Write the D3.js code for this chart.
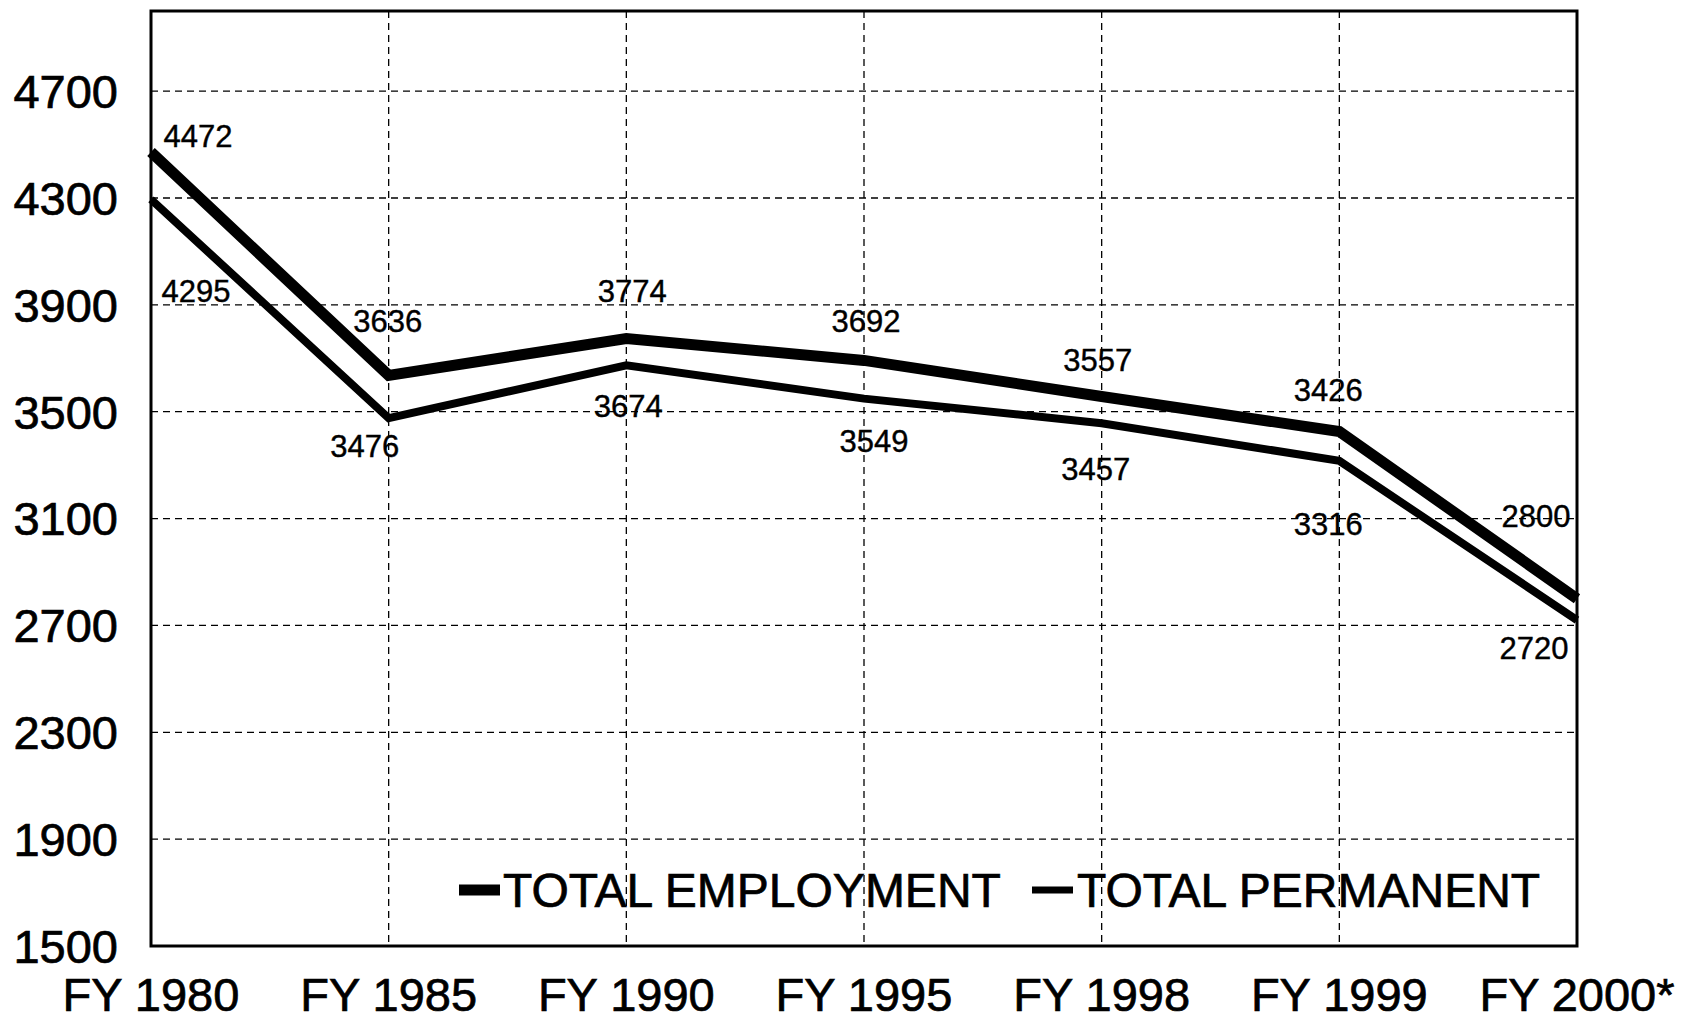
<!DOCTYPE html>
<html lang="en">
<head>
  <meta charset="UTF-8">
  <title>Total Employment</title>
  <style>
    body { margin: 0; padding: 0; background: #fff; }
    svg { display: block; font-family: "Liberation Sans", Arial, sans-serif; }
    .grid line { stroke: #000; stroke-width: 1.3px; stroke-dasharray: 7 5; }
    .tick-label { font-size: 47px; fill: #000; stroke: #000; stroke-width: 0.7px; }
    .legend-label { font-size: 48px; fill: #000; stroke: #000; stroke-width: 0.7px; }
    .val { font-size: 31px; fill: #000; stroke: #000; stroke-width: 0.4px; }
    .series { fill: none; stroke: #000; stroke-linejoin: miter; }
  </style>
</head>
<body>
  <div id="chart"></div>
  <script src="https://d3js.org/d3.v7.min.js"></script>
  <script>
    var years = ["FY 1980", "FY 1985", "FY 1990", "FY 1995", "FY 1998", "FY 1999", "FY 2000*"];
    var totalEmployment = [4472, 3636, 3774, 3692, 3557, 3426, 2800];
    var totalPermanent = [4295, 3476, 3674, 3549, 3457, 3316, 2720];
    var yTicks = [1500, 1900, 2300, 2700, 3100, 3500, 3900, 4300, 4700];

    // where each value label sits relative to its point
    var empLabelOffset = [[47, -16], [-1, -55], [6, -48], [2, -40], [-4, -37], [-11, -42], [-41, -83]];
    var permLabelOffset = [[45, 92], [-24, 28], [2, 41], [10, 42], [-6, 46], [-11, 63], [-43, 28]];

    var width = 1682, height = 1018;
    var plotLeft = 151, plotRight = 1577, plotTop = 11, plotBottom = 946;

    var svg = d3.select("#chart").append("svg")
      .attr("width", width)
      .attr("height", height);

    var x = d3.scalePoint().domain(years).range([plotLeft, plotRight]).padding(0);
    var y = d3.scaleLinear().domain([1500, 5000]).range([plotBottom, plotTop]);

    // grid
    var grid = svg.append("g").attr("class", "grid");
    grid.selectAll(".h").data(yTicks.slice(1)).enter().append("line")
      .attr("x1", plotLeft).attr("x2", plotRight)
      .attr("y1", function(d) { return y(d); })
      .attr("y2", function(d) { return y(d); });
    grid.selectAll(".v").data(years.slice(1, -1)).enter().append("line")
      .attr("y1", plotTop).attr("y2", plotBottom)
      .attr("x1", function(d) { return x(d); })
      .attr("x2", function(d) { return x(d); });

    // frame
    svg.append("rect")
      .attr("x", plotLeft).attr("y", plotTop)
      .attr("width", plotRight - plotLeft).attr("height", plotBottom - plotTop)
      .attr("fill", "none").attr("stroke", "#000").attr("stroke-width", 3);

    // axes labels
    svg.selectAll(".ylab").data(yTicks).enter().append("text")
      .attr("class", "tick-label")
      .attr("x", 118)
      .attr("y", function(d) { return y(d); })
      .attr("dy", "0.36em")
      .attr("text-anchor", "end")
      .text(function(d) { return d; });

    svg.selectAll(".xlab").data(years).enter().append("text")
      .attr("class", "tick-label")
      .attr("x", function(d) { return x(d); })
      .attr("y", 1011)
      .attr("text-anchor", "middle")
      .text(function(d) { return d; });

    // lines
    var line = d3.line()
      .x(function(d, i) { return x(years[i]); })
      .y(function(d) { return y(d); });

    svg.append("path").datum(totalPermanent)
      .attr("class", "series")
      .attr("stroke-width", 8)
      .attr("d", line);

    svg.append("path").datum(totalEmployment)
      .attr("class", "series")
      .attr("stroke-width", 11)
      .attr("d", line);

    function addLabels(values, offsets) {
      svg.append("g").selectAll("text").data(values).enter().append("text")
        .attr("class", "val")
        .attr("x", function(d, i) { return x(years[i]) + offsets[i][0]; })
        .attr("y", function(d, i) { return y(d) + offsets[i][1]; })
        .attr("dy", "0.36em")
        .attr("text-anchor", "middle")
        .text(function(d) { return d; });
    }
    addLabels(totalEmployment, empLabelOffset);
    addLabels(totalPermanent, permLabelOffset);

    // legend
    var legend = svg.append("g").attr("transform", "translate(0,890)");
    legend.append("line")
      .attr("x1", 459).attr("x2", 500).attr("y1", 0).attr("y2", 0)
      .attr("stroke", "#000").attr("stroke-width", 11);
    legend.append("text").attr("class", "legend-label")
      .attr("x", 503).attr("y", 0).attr("dy", "0.36em")
      .text("TOTAL EMPLOYMENT");
    legend.append("line")
      .attr("x1", 1032).attr("x2", 1073).attr("y1", 0).attr("y2", 0)
      .attr("stroke", "#000").attr("stroke-width", 7);
    legend.append("text").attr("class", "legend-label")
      .attr("x", 1077).attr("y", 0).attr("dy", "0.36em")
      .text("TOTAL PERMANENT");
  </script>
</body>
</html>
